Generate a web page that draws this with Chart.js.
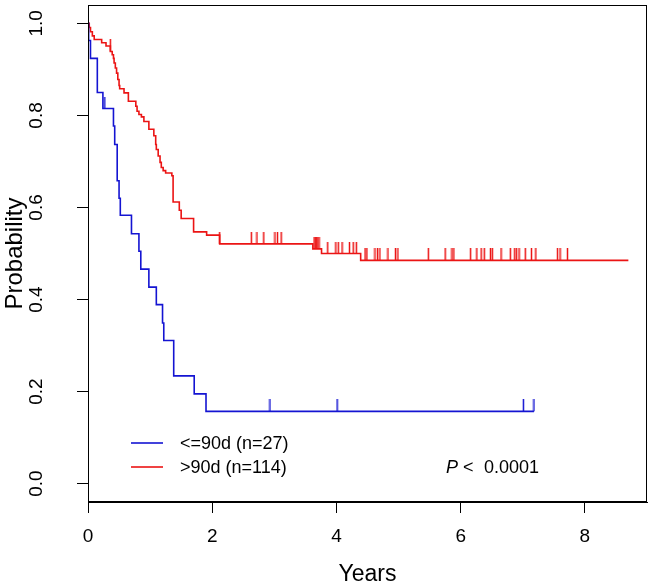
<!DOCTYPE html>
<html>
<head>
<meta charset="utf-8">
<script src="https://cdn.jsdelivr.net/npm/chart.js@4"></script>
<style>
  html, body { margin: 0; padding: 0; background: #fff; }
</style>
</head>
<body>
<canvas id="kmChart" width="652" height="588"></canvas>
<script>
// Kaplan-Meier data (time in years, survival probability)
const blueTimes = [0, 0.01, 0.04, 0.15, 0.24, 0.41, 0.43, 0.47, 0.50, 0.52, 0.70, 0.82, 0.85, 0.98, 1.10, 1.20, 1.22, 1.38, 1.71, 1.90, 7.18];
const blueSurv  = [1, 0.963, 0.924, 0.850, 0.815, 0.777, 0.737, 0.658, 0.620, 0.583, 0.543, 0.505, 0.466, 0.427, 0.389, 0.349, 0.311, 0.234, 0.195, 0.157, 0.157];
const blueCensor = [0.27, 2.93, 4.01, 7.01, 7.18];

const redTimes = [0, 0.02, 0.04, 0.07, 0.10, 0.22, 0.29, 0.36, 0.39, 0.41, 0.42, 0.44, 0.46, 0.48, 0.50, 0.51, 0.58, 0.65, 0.77, 0.79, 0.82, 0.86, 0.90, 0.98, 1.06, 1.09, 1.10, 1.13, 1.16, 1.18, 1.21, 1.25, 1.35, 1.37, 1.47, 1.50, 1.70, 1.91, 2.12, 3.62, 3.76, 4.39, 8.70];
const redSurv  = [1, 0.991, 0.982, 0.973, 0.965, 0.958, 0.951, 0.939, 0.932, 0.924, 0.914, 0.903, 0.892, 0.878, 0.865, 0.858, 0.849, 0.831, 0.820, 0.809, 0.802, 0.797, 0.787, 0.770, 0.756, 0.737, 0.726, 0.712, 0.698, 0.687, 0.680, 0.675, 0.669, 0.612, 0.594, 0.576, 0.547, 0.540, 0.521, 0.510, 0.500, 0.485, 0.485];
const redCensor = [0.36, 2.12, 2.63, 2.72, 2.83, 3.01, 3.05, 3.11, 3.64, 3.66, 3.68, 3.70, 3.72, 3.86, 3.99, 4.03, 4.09, 4.21, 4.27, 4.32,
  4.46, 4.49, 4.62, 4.66, 4.70, 4.83, 4.95, 4.99, 5.48, 5.75, 5.86, 5.89, 6.16, 6.26, 6.33, 6.38, 6.48, 6.51, 6.65, 6.80, 6.87, 6.90, 6.94,
  7.04, 7.14, 7.21, 7.56, 7.60, 7.72];

const seriesLabels = ['<=90d (n=27)', '>90d (n=114)'];
const pValueText = ['P', '<', '0.0001'];
const xTicks = [0, 2, 4, 6, 8];
const yTicks = [0, 0.2, 0.4, 0.6, 0.8, 1.0];
const yTickLabels = ['0.0', '0.2', '0.4', '0.6', '0.8', '1.0'];

const BLUE = 'rgb(20, 20, 210)';
const RED = 'rgb(235, 20, 20)';
const FONT = '"Liberation Sans", Arial, sans-serif';

// survival value of a step curve at time t
function survAt(times, surv, t) {
  let s = surv[0];
  for (let i = 0; i < times.length; i++) {
    if (times[i] <= t) s = surv[i];
  }
  return s;
}

// censor mark: short vertical tick pointing up from the curve
function tickImage(color) {
  const c = document.createElement('canvas');
  c.width = 3;
  c.height = 24;
  const g = c.getContext('2d');
  g.fillStyle = color;
  g.fillRect(0.75, 0, 1.5, 12);
  return c;
}

function curve(times, surv) {
  return times.map((t, i) => ({ x: t, y: surv[i] }));
}
function censorPoints(cens, times, surv) {
  return cens.map(t => ({ x: t, y: survAt(times, surv, t) }));
}

const boxPlugin = {
  id: 'box',
  afterDraw(chart) {
    const { ctx, chartArea: a } = chart;
    ctx.save();
    ctx.strokeStyle = '#000';
    ctx.lineWidth = 1;
    ctx.strokeRect(Math.round(a.left) + 0.5, Math.round(a.top) + 0.5,
      Math.round(a.right - a.left) - 1, Math.round(a.bottom - a.top) - 1);
    ctx.restore();
  }
};

const textPlugin = {
  id: 'texts',
  afterDraw(chart) {
    const ctx = chart.ctx;
    const ys = chart.scales.y;
    ctx.save();
    ctx.fillStyle = '#000';

    // rotated y tick labels (R style)
    ctx.font = '19px ' + FONT;
    ctx.textAlign = 'center';
    ctx.textBaseline = 'alphabetic';
    yTicks.forEach((v, i) => {
      ctx.save();
      ctx.translate(42, ys.getPixelForValue(v));
      ctx.rotate(-Math.PI / 2);
      ctx.fillText(yTickLabels[i], 0, 0);
      ctx.restore();
    });

    // legend
    const legendColors = [BLUE, RED];
    const legendY = [443, 467];
    ctx.font = '18px ' + FONT;
    ctx.textAlign = 'left';
    ctx.textBaseline = 'middle';
    seriesLabels.forEach((lab, i) => {
      ctx.strokeStyle = legendColors[i];
      ctx.lineWidth = 1.6;
      ctx.beginPath();
      ctx.moveTo(131, legendY[i]);
      ctx.lineTo(163, legendY[i]);
      ctx.stroke();
      ctx.fillText(lab, 180, legendY[i] + 1);
    });

    // p value
    ctx.font = 'italic 18px ' + FONT;
    ctx.fillText(pValueText[0], 446, 468);
    ctx.font = '18px ' + FONT;
    ctx.fillText(pValueText[1], 463, 468);
    ctx.fillText(pValueText[2], 484, 468);
    ctx.restore();
  }
};

const ctx = document.getElementById('kmChart').getContext('2d');
const chart = new Chart(ctx, {
  type: 'scatter',
  data: {
    datasets: [
      {
        label: seriesLabels[0],
        data: curve(blueTimes, blueSurv),
        showLine: true,
        stepped: 'before',
        borderColor: BLUE,
        borderWidth: 1.6,
        pointRadius: 0
      },
      {
        label: seriesLabels[1],
        data: curve(redTimes, redSurv),
        showLine: true,
        stepped: 'before',
        borderColor: RED,
        borderWidth: 1.6,
        pointRadius: 0
      },
      {
        label: 'blue censored',
        data: censorPoints(blueCensor, blueTimes, blueSurv),
        pointStyle: tickImage(BLUE),
        pointRadius: 3
      },
      {
        label: 'red censored',
        data: censorPoints(redCensor, redTimes, redSurv),
        pointStyle: tickImage(RED),
        pointRadius: 3
      }
    ]
  },
  options: {
    responsive: false,
    animation: false,
    layout: { padding: { top: 2, right: 2.5, left: 0, bottom: 0 } },
    plugins: {
      legend: { display: false },
      tooltip: { enabled: false }
    },
    scales: {
      x: {
        type: 'linear',
        min: 0,
        max: 9,
        afterBuildTicks: s => { s.ticks = xTicks.map(v => ({ value: v })); },
        afterFit: s => { s.height = 86; },
        grid: { drawOnChartArea: false, drawTicks: true, tickLength: 11, color: '#000' },
        border: { display: true, color: '#000', width: 1 },
        ticks: { color: '#000', font: { family: FONT, size: 19 }, padding: 12, maxRotation: 0, autoSkip: false },
        title: { display: true, text: 'Years', color: '#000', font: { family: FONT, size: 23, lineHeight: 1 }, padding: { top: 0, bottom: 2 } }
      },
      y: {
        type: 'linear',
        min: -0.04,
        max: 1.04,
        afterBuildTicks: s => { s.ticks = yTicks.map(v => ({ value: v })); },
        afterFit: s => { s.width = 88; },
        grid: { drawOnChartArea: false, drawTicks: true, tickLength: 11, color: '#000' },
        border: { display: true, color: '#000', width: 1 },
        ticks: { display: false },
        title: { display: true, text: 'Probability', color: '#000', font: { family: FONT, size: 24 }, padding: { top: 1, bottom: 0 } }
      }
    }
  },
  plugins: [boxPlugin, textPlugin]
});
</script>
</body>
</html>
